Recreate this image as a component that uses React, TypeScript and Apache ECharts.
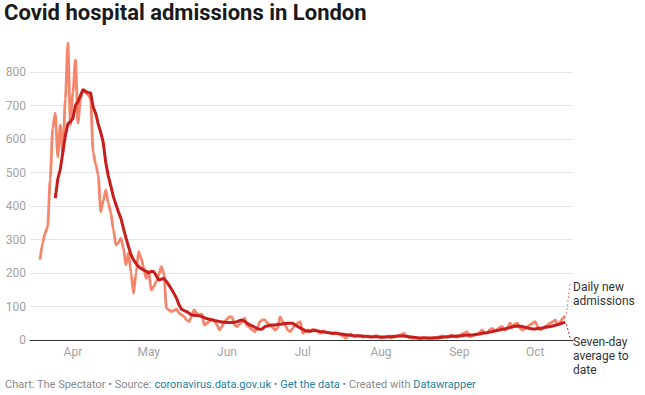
import React, { useEffect, useRef } from "react";
import * as echarts from "echarts";

// Axis range (categories are days)
const AXIS_START = "2020-03-15";
const AXIS_END = "2020-10-16";
const DAILY_START = "2020-03-19";
const AVG_START = "2020-03-25";
const MONTH_NAMES = ["Jan", "Feb", "Mar", "Apr", "May", "Jun", "Jul", "Aug", "Sep", "Oct", "Nov", "Dec"];
const Y_MIN = 0;
const Y_MAX = 800;
const Y_STEP = 100;

// Daily new admissions (from 19 Mar)
const dailyMar = [240, 290, 320, 338, 480, 633, 677, 547, 642, 552, 720, 886, 642];
const dailyApr = [740, 836, 648, 720, 745, 740, 731, 720, 560, 525, 493, 383, 415, 448, 410, 380, 330, 284, 290, 304, 274, 224, 260, 200, 139, 200, 264, 244, 215, 184];
const dailyMay = [204, 149, 160, 174, 195, 219, 199, 95, 90, 85, 88, 92, 80, 75, 70, 60, 55, 70, 90, 80, 75, 78, 45, 50, 55, 62, 58, 45, 30, 40, 55];
const dailyJun = [62, 70, 68, 45, 40, 48, 55, 65, 42, 38, 30, 25, 35, 55, 60, 60, 50, 45, 38, 30, 35, 70, 55, 45, 30, 25, 35, 45, 50, 55];
const dailyJul = [20, 25, 30, 28, 32, 30, 25, 20, 28, 25, 22, 20, 18, 22, 20, 15, 12, 5, 15, 18, 12, 10, 14, 12, 8, 10, 12, 8, 10, 14, 9];
const dailyAug = [6, 8, 10, 12, 6, 8, 10, 14, 16, 20, 12, 8, 6, 5, 8, 4, 5, 8, 6, 5, 4, 8, 6, 10, 12, 10, 8, 12, 15, 10, 8];
const dailySep = [12, 18, 20, 25, 10, 12, 15, 18, 22, 30, 22, 20, 30, 35, 28, 30, 38, 40, 30, 35, 50, 42, 48, 50, 35, 30, 35, 40, 45, 50];
const dailyOct = [55, 40, 30, 35, 40, 45, 50, 55, 60, 45, 55, 65, 72];

// Seven-day average (from 25 Mar)
const avgMar = [423, 480, 510, 560, 610, 645, 652];
const avgApr = [662, 700, 712, 730, 748, 742, 738, 738, 695, 677, 645, 620, 590, 530, 490, 460, 428, 405, 383, 363, 333, 305, 279, 255, 239, 228, 219, 213, 209, 205];
const avgMay = [200, 205, 204, 192, 179, 182, 184, 175, 164, 152, 139, 125, 105, 92, 88, 85, 80, 75, 74, 73, 72, 70, 67, 64, 62, 60, 58, 57, 55, 54, 53];
const avgJun = [52, 52, 52, 53, 55, 58, 60, 55, 50, 45, 42, 38, 34, 32, 33, 40, 42, 44, 45, 45, 46, 47, 48, 49, 50, 50, 50, 45, 40, 36];
const avgJul = [32, 28, 26, 26, 28, 28, 27, 25, 24, 23, 22, 21, 20, 20, 19, 18, 17, 16, 15, 14, 13, 13, 12, 12, 11, 11, 10, 10, 10, 10, 10];
const avgAug = [9, 9, 9, 10, 10, 11, 11, 12, 12, 12, 11, 10, 9, 8, 7, 6, 6, 6, 6, 6, 6, 6, 7, 7, 8, 9, 10, 10, 11, 11, 12];
const avgSep = [12, 13, 14, 14, 15, 15, 16, 17, 18, 20, 21, 22, 24, 25, 27, 29, 30, 32, 33, 35, 37, 39, 41, 42, 41, 40, 38, 36, 34, 33];
const avgOct = [33, 34, 35, 36, 38, 39, 40, 42, 44, 46, 48, 51, 53];

const TITLE = "Covid hospital admissions in London";
const LABEL_DAILY = "Daily new\nadmissions";
const LABEL_AVG = "Seven-day\naverage to\ndate";

const COLOR_DAILY = "#f5866c";
const COLOR_AVG = "#c71e1d";
const FONT = "Roboto";

function isoDay(d: Date) {
  return d.toISOString().slice(0, 10);
}

function buildDays(start: string, end: string): string[] {
  const out: string[] = [];
  const d = new Date(start + "T00:00:00Z");
  const e = new Date(end + "T00:00:00Z");
  while (d.getTime() <= e.getTime()) {
    out.push(isoDay(d));
    d.setUTCDate(d.getUTCDate() + 1);
  }
  return out;
}

function align(days: string[], start: string, values: number[]) {
  const off = days.indexOf(start);
  return days.map((_, i) => (i >= off && i < off + values.length ? values[i - off] : null));
}

export default function App() {
  const ref = useRef<HTMLDivElement>(null);

  useEffect(() => {
    if (!ref.current) return;
    const chart = echarts.init(ref.current, undefined, { renderer: "svg" });
    const days = buildDays(AXIS_START, AXIS_END);
    const daily = [...dailyMar, ...dailyApr, ...dailyMay, ...dailyJun, ...dailyJul, ...dailyAug, ...dailySep, ...dailyOct];
    const avg = [...avgMar, ...avgApr, ...avgMay, ...avgJun, ...avgJul, ...avgAug, ...avgSep, ...avgOct];
    const dailyData = align(days, DAILY_START, daily);
    const avgData = align(days, AVG_START, avg);

    const gridLeft = 30;
    const gridRight = 72;
    const labelX = 645 - gridRight;

    chart.setOption({
      animation: false,
      backgroundColor: "#ffffff",
      textStyle: { fontFamily: FONT },
      grid: { left: gridLeft, right: gridRight, top: 72, bottom: 55, containLabel: false },
      xAxis: {
        type: "category",
        data: days,
        boundaryGap: false,
        axisLine: { show: true, lineStyle: { color: "#333333", width: 1 } },
        axisTick: { show: false },
        splitLine: { show: false },
        axisLabel: {
          interval: (_i: number, v: string) => v.slice(8, 10) === "01",
          formatter: (v: string) => MONTH_NAMES[parseInt(v.slice(5, 7), 10) - 1],
          color: "#a3a3a3",
          fontSize: 12,
          fontFamily: FONT,
          margin: 6,
        },
      },
      yAxis: {
        type: "value",
        min: Y_MIN,
        max: Y_MAX,
        interval: Y_STEP,
        axisLine: { show: false },
        axisTick: { show: false },
        splitLine: { lineStyle: { color: "#e6e6e6", width: 1 } },
        axisLabel: { color: "#a3a3a3", fontSize: 12, fontFamily: FONT, margin: 4 },
      },
      series: [
        {
          name: "Daily new admissions",
          type: "line",
          data: dailyData,
          symbol: "none",
          clip: false,
          smooth: 0.25,
          smoothMonotone: "x",
          lineStyle: { color: COLOR_DAILY, width: 2.8 },
          z: 2,
        },
        {
          name: "Seven-day average",
          type: "line",
          data: avgData,
          symbol: "none",
          clip: false,
          lineStyle: { color: COLOR_AVG, width: 3 },
          z: 3,
        },
      ],
      graphic: [
        {
          id: "title",
          type: "text",
          left: 4,
          top: 1,
          style: { text: TITLE, fontSize: 22, fontWeight: "bold", fill: "#1a1a1a", fontFamily: FONT },
        },
        {
          id: "footer",
          type: "text",
          left: 5,
          top: 379,
          style: {
            text: "{g|Chart: The Spectator • Source: }{l|coronavirus.data.gov.uk}{g| • }{l|Get the data}{g| • Created with }{l|Datawrapper}",
            fontFamily: FONT,
            fontSize: 11,
            rich: {
              g: { fill: "#8a8a8a", fontSize: 11, fontFamily: FONT },
              l: { fill: "#1d81a2", fontSize: 11, fontFamily: FONT },
            },
          },
        },
        {
          id: "labelDaily",
          type: "text",
          x: labelX,
          y: 280,
          style: { text: LABEL_DAILY, fontSize: 12, lineHeight: 14, fill: "#333333", fontFamily: FONT },
        },
        {
          id: "labelAvg",
          type: "text",
          x: labelX,
          y: 335,
          style: { text: LABEL_AVG, fontSize: 12, lineHeight: 14, fill: "#333333", fontFamily: FONT },
        },
      ],
    });

    // connectors from the last points to the labels
    const lastD = days.indexOf(DAILY_START) + daily.length - 1;
    const lastA = days.indexOf(AVG_START) + avg.length - 1;
    const pD = chart.convertToPixel({ gridIndex: 0 }, [lastD, daily[daily.length - 1]]) as number[];
    const pA = chart.convertToPixel({ gridIndex: 0 }, [lastA, avg[avg.length - 1]]) as number[];
    if (pD && pA) {
      chart.setOption({
        graphic: [
          {
            id: "connDaily",
            type: "line",
            shape: { x1: pD[0] + 1, y1: pD[1] - 2, x2: labelX - 3, y2: 284 },
            style: { stroke: COLOR_DAILY, lineWidth: 1, lineDash: [2, 2] },
            z: 10,
          },
          {
            id: "connAvg",
            type: "line",
            shape: { x1: pA[0] + 1, y1: pA[1] + 2, x2: labelX - 2, y2: 341 },
            style: { stroke: COLOR_AVG, lineWidth: 1, lineDash: [2, 2] },
            z: 10,
          },
        ],
      });
    }

    return () => chart.dispose();
  }, []);

  return (
    <div
      ref={ref}
      style={{ position: "absolute", left: 0, top: 0, width: 645, height: 395 }}
    />
  );
}
